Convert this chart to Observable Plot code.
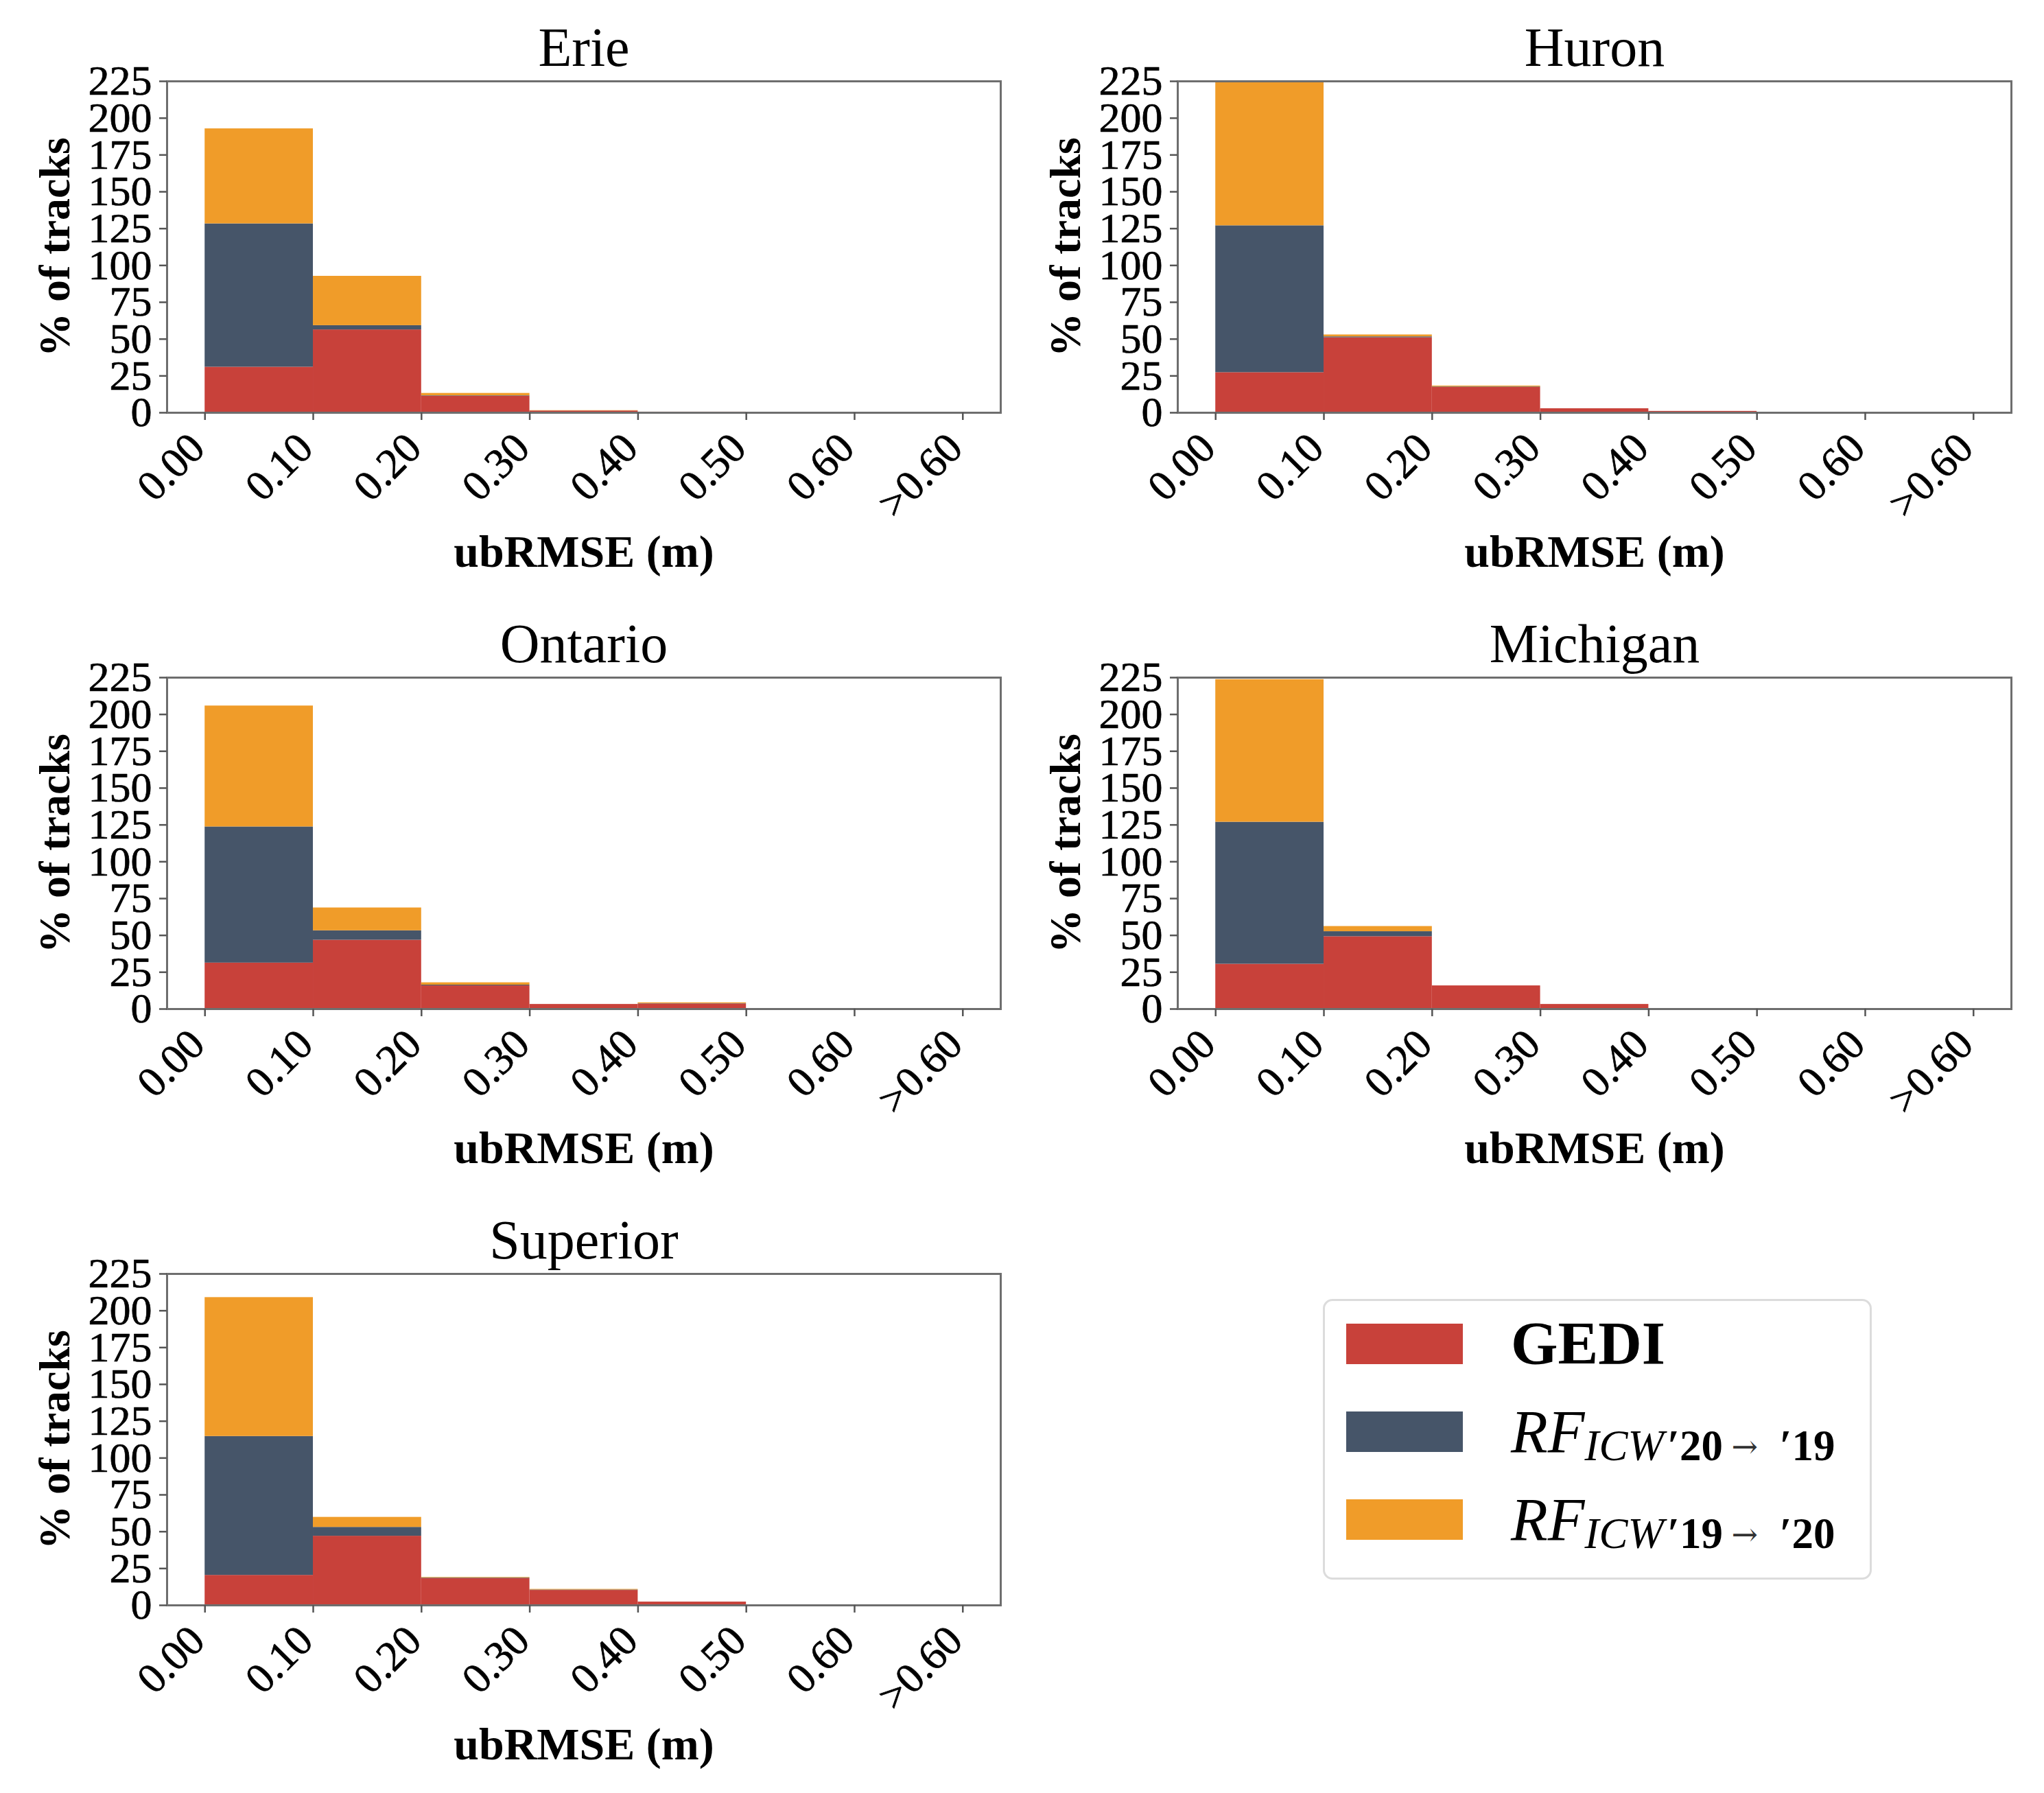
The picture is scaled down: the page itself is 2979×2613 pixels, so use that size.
<!DOCTYPE html>
<html>
<head>
<meta charset="utf-8">
<script src="https://cdn.jsdelivr.net/npm/d3@7"></script>
<script src="https://cdn.jsdelivr.net/npm/@observablehq/plot@0.6"></script>
<style>
  html, body { margin: 0; padding: 0; background: #fff; }
  #root { position: relative; width: 2979px; height: 2613px; background: #fff; font-family: "Liberation Serif", serif; overflow: hidden; }
  .panel { position: absolute; }
  .lg-box { position: absolute; box-sizing: border-box; border: 3px solid #dcdcdc; border-radius: 14px; background: #fff; }
  .lg-sw { position: absolute; }
  .lg-tx { position: absolute; font-family: "Liberation Serif", serif; font-size: 88px; line-height: 88px; color: #000; white-space: nowrap; }
  .lg-tx sub { font-size: 63px; vertical-align: -12px; line-height: 0; font-style: normal; }
  .lg-tx sub .num { font-weight: bold; }
  .lg-tx .arr { font-family: "DejaVu Serif", serif; font-size: 46px; color: #333; position: relative; top: -4px; }
</style>
</head>
<body>
<div id="root"></div>
<script>
// ---- data ----
const lakes = ["Erie", "Huron", "Ontario", "Michigan", "Superior"];
const binStarts = [0, 0.1, 0.2, 0.3, 0.4, 0.5, 0.6];
const binWidth = 0.1;
const tickValues = [0, 0.1, 0.2, 0.3, 0.4, 0.5, 0.6, 0.7];
const tickLabels = ["0.00", "0.10", "0.20", "0.30", "0.40", "0.50", "0.60", ">0.60"];
const yTicks = [0, 25, 50, 75, 100, 125, 150, 175, 200, 225];
const seriesNames = ["GEDI", "RF ICW '20→'19", "RF ICW '19→'20"];
const seriesColors = ["#c8413a", "#465569", "#f09c29"];

// % of tracks per bin (stacked: GEDI, RF '20→'19, RF '19→'20)
const erieGEDI     = [31.0, 56.3, 11.3, 1.3, 0.5, 0, 0];
const erieRF2019   = [97.3, 2.9, 0.3, 0, 0, 0, 0];
const erieRF1920   = [64.5, 33.5, 1.6, 0.2, 0, 0, 0];

const huronGEDI    = [27.3, 51.0, 17.3, 2.8, 1.0, 0, 0];
const huronRF2019  = [99.7, 0.6, 0.3, 0, 0, 0, 0];
const huronRF1920  = [98.0, 1.3, 0.6, 0, 0, 0, 0];

const ontarioGEDI   = [31.3, 46.8, 15.8, 3.2, 3.5, 0, 0];
const ontarioRF2019 = [92.4, 6.4, 0.5, 0, 0.2, 0, 0];
const ontarioRF1920 = [82.1, 15.5, 1.6, 0, 0.6, 0, 0];

const michiganGEDI   = [30.5, 49.2, 15.8, 3.2, 0.4, 0.4, 0];
const michiganRF2019 = [96.4, 3.4, 0, 0, 0, 0, 0];
const michiganRF1920 = [96.8, 3.5, 0, 0, 0, 0, 0];

const superiorGEDI   = [20.4, 47.0, 18.3, 10.2, 2.3, 0, 0];
const superiorRF2019 = [94.3, 6.0, 0.3, 0.3, 0, 0, 0];
const superiorRF1920 = [94.3, 6.8, 0.4, 0.4, 0, 0, 0];

const lakeSeries = {
  Erie: [erieGEDI, erieRF2019, erieRF1920],
  Huron: [huronGEDI, huronRF2019, huronRF1920],
  Ontario: [ontarioGEDI, ontarioRF2019, ontarioRF1920],
  Michigan: [michiganGEDI, michiganRF2019, michiganRF1920],
  Superior: [superiorGEDI, superiorRF2019, superiorRF1920]
};

// ---- layout ----
const panelLeft = [0, 1473, 0, 1473, 0];
const panelTop = [0, 0, 869, 869, 1738];
const FONT = '"Liberation Serif", serif';

function makePanel(name) {
  const rows = [];
  lakeSeries[name].forEach((vals, s) => {
    binStarts.forEach((b, i) => {
      rows.push({x1: b, x2: b + binWidth, series: seriesNames[s], value: vals[i]});
    });
  });
  return Plot.plot({
    width: 1478,
    height: 851,
    marginLeft: 243,
    marginRight: 20,
    marginTop: 118,
    marginBottom: 250,
    style: {fontFamily: FONT, background: "transparent", color: "black", overflow: "visible"},
    x: {domain: [-0.035, 0.735], axis: null},
    y: {domain: [0, 225], axis: null},
    color: {domain: seriesNames, range: seriesColors},
    marks: [
      Plot.rectY(rows, {x1: "x1", x2: "x2", y: "value", fill: "series", order: seriesNames}),
      Plot.frame({stroke: "#6e6e6e", strokeWidth: 3}),
      Plot.axisY({ticks: yTicks, tickSize: 11, stroke: "#555", strokeWidth: 2.5, tickFormat: () => "", label: null}),
      Plot.axisX({ticks: tickValues, tickSize: 11, stroke: "#555", strokeWidth: 2.5, tickFormat: () => "", label: null}),
      Plot.text(yTicks, {y: d => d, text: d => String(d), frameAnchor: "left", textAnchor: "end", lineAnchor: "middle", dx: -22, fontSize: 62, fill: "black", stroke: "black", strokeWidth: 0.7}),
      Plot.text(tickValues, {x: d => d, text: (d, i) => tickLabels[i], frameAnchor: "bottom", rotate: -45, textAnchor: "end", lineAnchor: "bottom", dx: 3, dy: 55, fontSize: 62, fill: "black", stroke: "black", strokeWidth: 0.7}),
      Plot.text([name], {text: d => d, frameAnchor: "top", lineAnchor: "bottom", dy: -23, fontSize: 80, fill: "black"}),
      Plot.text(["% of tracks"], {text: d => d, frameAnchor: "left", textAnchor: "middle", lineAnchor: "middle", rotate: -90, dx: -163, fontSize: 64, fontWeight: "bold", fill: "black"}),
      Plot.text(["ubRMSE (m)"], {text: d => d, frameAnchor: "bottom", textAnchor: "middle", lineAnchor: "bottom", dy: 224, fontSize: 66, fontWeight: "bold", fill: "black"})
    ]
  });
}

const root = document.getElementById("root");
lakes.forEach((name, k) => {
  const wrap = document.createElement("div");
  wrap.className = "panel";
  wrap.style.left = panelLeft[k] + "px";
  wrap.style.top = panelTop[k] + "px";
  wrap.appendChild(makePanel(name));
  root.appendChild(wrap);
});

// ---- legend (HTML, colors from the same scale arrays) ----
const legendLabelsHTML = [
  "<b>GEDI</b>",
  "<i>RF</i><sub><i>ICW</i>&#8202;<span class=\"num\">′20</span>&#8201;<span class=\"arr\">→</span>&ensp;<span class=\"num\">′19</span></sub>",
  "<i>RF</i><sub><i>ICW</i>&#8202;<span class=\"num\">′19</span>&#8201;<span class=\"arr\">→</span>&ensp;<span class=\"num\">′20</span></sub>"
];
const box = document.createElement("div");
box.className = "lg-box";
Object.assign(box.style, {left: "1928px", top: "1893px", width: "800px", height: "409px"});
root.appendChild(box);
const swTop = [1929, 2057, 2185];
const baseY = [1988, 2117, 2245];
seriesNames.forEach((s, i) => {
  const sw = document.createElement("div");
  sw.className = "lg-sw";
  Object.assign(sw.style, {left: "1962px", top: swTop[i] + "px", width: "170px", height: "59px", background: seriesColors[i]});
  root.appendChild(sw);
  const tx = document.createElement("div");
  tx.className = "lg-tx";
  Object.assign(tx.style, {left: "2202px", top: (baseY[i] - 74) + "px"});
  tx.innerHTML = legendLabelsHTML[i];
  root.appendChild(tx);
});
</script>
</body>
</html>
